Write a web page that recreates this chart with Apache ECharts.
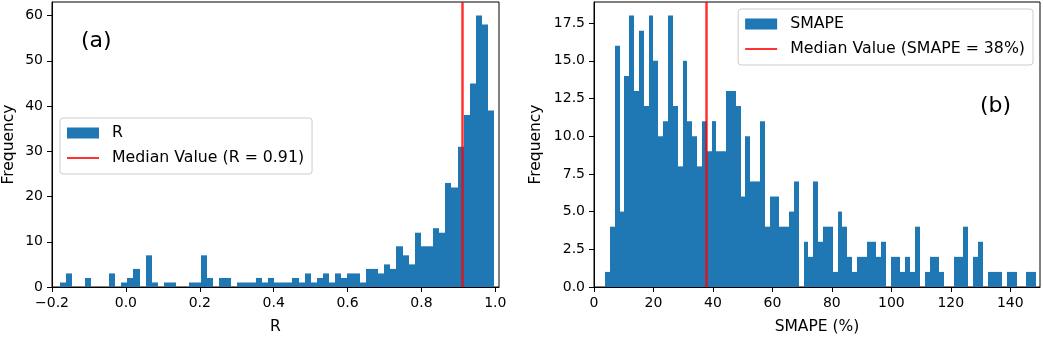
<!DOCTYPE html>
<html>
<head>
<meta charset="utf-8">
<script src="https://cdn.jsdelivr.net/npm/echarts@6.0.0/dist/echarts.min.js"></script>
<style>
  html, body { margin: 0; padding: 0; background: #fff; }
  #chart { width: 1043px; height: 340px; }
</style>
</head>
<body>
<div id="chart"></div>
<script>
// ---- (a) histogram of R ----
const rBinStart = -0.178;
const rBinWidth = 0.01655;
const rCounts = [
  1, 3, 0, 0, 2, 0, 0, 0, 3, 0,
  1, 2, 4, 0, 7, 1, 0, 1, 1, 0,
  0, 1, 1, 7, 2, 0, 2, 2, 0, 1,
  1, 1, 2, 1, 2, 1, 1, 1, 2, 1,
  3, 1, 2, 3, 1, 3, 2, 3, 3, 1,
  4, 4, 3, 5, 4, 9, 7, 5, 12, 9,
  9, 13, 12, 23, 22, 31, 38, 45, 60, 58,
  39
];
const rMedian = 0.91;
const rTicks = [-0.2, 0, 0.2, 0.4, 0.6, 0.8, 1.0];
const rFreqTicks = [0, 10, 20, 30, 40, 50, 60];
const rLegend = ['R', 'Median Value (R = 0.91)'];

// ---- (b) histogram of SMAPE ----
const smapeBinStart = 3.71;
const smapeBinWidth = 1.629;
const smapeCounts = [
  1, 4, 16, 5, 14, 18, 13, 17, 12, 18,
  15, 10, 11, 18, 12, 8, 15, 11, 10, 8,
  11, 9, 11, 9, 9, 13, 13, 12, 6, 10,
  7, 7, 11, 4, 6, 6, 4, 4, 5, 7,
  0, 3, 2, 7, 3, 4, 4, 1, 5, 4,
  2, 1, 2, 2, 3, 3, 2, 3, 0, 2,
  2, 1, 2, 1, 4, 0, 1, 2, 2, 1,
  0, 0, 2, 2, 4, 0, 2, 3, 0, 1,
  1, 1, 0, 1, 1, 0, 0, 1, 1
];
const smapeMedian = 37.8;
const smapeTicks = [0, 20, 40, 60, 80, 100, 120, 140];
const smapeFreqTicks = [0, 2.5, 5, 7.5, 10, 12.5, 15, 17.5];
const smapeLegend = ['SMAPE', 'Median Value (SMAPE = 38%)'];

const BAR = '#1f77b4';
const MED = 'rgba(255,0,0,0.8)';
const FONT = 'DejaVu Sans';

function toBins(start, width, counts) {
  return counts.map((c, i) => [start + i * width, start + (i + 1) * width, c]);
}

// one rect per bin, edges snapped to whole pixels so neighbours don't leave seams
function histItem(params, api) {
  const n = api.value(2);
  if (!n) return null;
  const p0 = api.coord([api.value(0), n]);
  const p1 = api.coord([api.value(1), 0]);
  const x0 = Math.round(p0[0]), x1 = Math.round(p1[0]);
  return {
    type: 'rect',
    shape: { x: x0, y: p0[1], width: x1 - x0, height: p1[1] - p0[1] },
    style: { fill: BAR }
  };
}

function xAxisOf(idx, min, max, ticks, name, fmt) {
  return {
    type: 'value', gridIndex: idx, min: min, max: max, z: 10,
    name: name, nameLocation: 'middle', nameGap: 32,
    nameTextStyle: { fontFamily: FONT, fontSize: 15.5, color: '#000' },
    axisLine: { show: true, onZero: false, lineStyle: { color: '#000', width: 1 } },
    axisTick: { show: true, length: 5, customValues: ticks, lineStyle: { color: '#000' } },
    axisLabel: { customValues: ticks, margin: 9, fontFamily: FONT, fontSize: 14, color: '#000', formatter: fmt },
    splitLine: { show: false }
  };
}

function yAxisOf(idx, max, ticks, gap, fmt) {
  return {
    type: 'value', gridIndex: idx, min: 0, max: max, z: 10,
    name: 'Frequency', nameLocation: 'middle', nameGap: gap,
    nameTextStyle: { fontFamily: FONT, fontSize: 15.5, color: '#000' },
    axisLine: { show: true, onZero: false, lineStyle: { color: '#000', width: 1 } },
    axisTick: { show: true, length: 5, customValues: ticks, lineStyle: { color: '#000' } },
    axisLabel: { customValues: ticks, margin: 9, fontFamily: FONT, fontSize: 14, color: '#000', formatter: fmt },
    splitLine: { show: false }
  };
}

function legendOf(names, pos) {
  return Object.assign({
    orient: 'vertical',
    data: [
      { name: names[0], icon: 'rect' },
      { name: names[1], itemStyle: { opacity: 0 } }   // hide the dot, keep the line
    ],
    itemWidth: 32, itemHeight: 11, itemGap: 7,
    padding: [6, 8, 7, 6],
    backgroundColor: 'rgba(255,255,255,0.8)',
    borderColor: '#cccccc', borderWidth: 1, borderRadius: 3,
    textStyle: { fontFamily: FONT, fontSize: 15.75, color: '#000', lineHeight: 18, padding: [0, 0, 0, 8] },
    selectedMode: false
  }, pos);
}

function medianSeries(name, idx, value) {
  return {
    type: 'line', name: name, xAxisIndex: idx, yAxisIndex: idx,
    data: [], symbol: 'none', color: MED,
    lineStyle: { color: MED, width: 2.5 },
    markLine: {
      silent: true, symbol: ['none', 'none'], label: { show: false },
      lineStyle: { color: MED, width: 2.5, type: 'solid' },
      data: [{ xAxis: value }]
    },
    z: 5
  };
}

const chart = echarts.init(document.getElementById('chart'), null, { renderer: 'canvas' });
chart.setOption({
  animation: false,
  backgroundColor: '#fff',
  grid: [
    { left: 52, right: 544, top: 2, bottom: 48, show: true, borderColor: '#000', borderWidth: 1, backgroundColor: 'transparent' },
    { left: 594, right: 3, top: 2, bottom: 48, show: true, borderColor: '#000', borderWidth: 1, backgroundColor: 'transparent' }
  ],
  xAxis: [
    xAxisOf(0, -0.2, 1.01, rTicks, 'R', v => (v < 0 ? '\u2212' : '') + Math.abs(v).toFixed(1)),
    xAxisOf(1, 0, 150, smapeTicks, 'SMAPE (%)', v => String(v))
  ],
  yAxis: [
    yAxisOf(0, 63, rFreqTicks, 35, v => String(v)),
    yAxisOf(1, 18.9, smapeFreqTicks, 50, v => v.toFixed(1))
  ],
  legend: [
    legendOf(rLegend, { left: 60, top: 118 }),
    legendOf(smapeLegend, { right: 10, top: 9 })
  ],
  graphic: [
    { type: 'text', left: 81, top: 30, style: { text: '(a)', font: '22px "DejaVu Sans"', fill: '#000' } },
    { type: 'text', left: 980, top: 95, style: { text: '(b)', font: '22px "DejaVu Sans"', fill: '#000' } }
  ],
  series: [
    {
      type: 'custom', name: rLegend[0], xAxisIndex: 0, yAxisIndex: 0,
      renderItem: histItem, encode: { x: [0, 1], y: 2 }, color: BAR,
      data: toBins(rBinStart, rBinWidth, rCounts)
    },
    medianSeries(rLegend[1], 0, rMedian),
    {
      type: 'custom', name: smapeLegend[0], xAxisIndex: 1, yAxisIndex: 1,
      renderItem: histItem, encode: { x: [0, 1], y: 2 }, color: BAR,
      data: toBins(smapeBinStart, smapeBinWidth, smapeCounts)
    },
    medianSeries(smapeLegend[1], 1, smapeMedian)
  ]
});
</script>
</body>
</html>
